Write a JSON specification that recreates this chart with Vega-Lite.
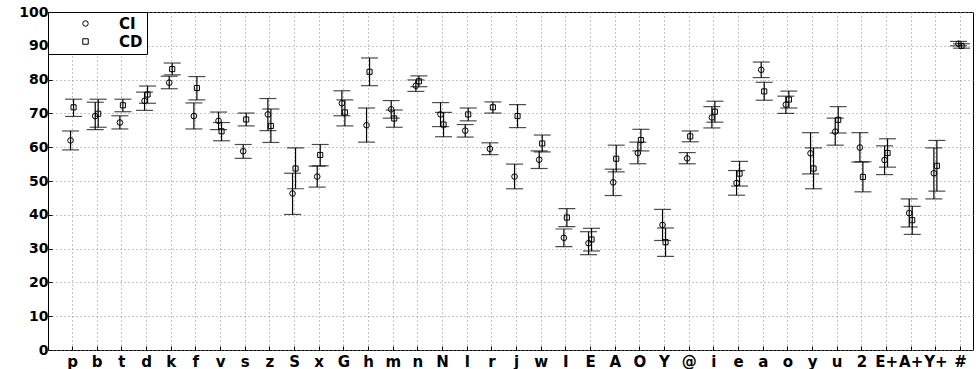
{
  "$schema": "https://vega.github.io/schema/vega-lite/v6.json",
  "width": 925,
  "height": 338,
  "autosize": {"type": "none"},
  "padding": {"left": 48, "top": 12, "right": 3, "bottom": 19},
  "config": {
    "font": "DejaVu Sans",
    "view": {"stroke": "#000", "strokeWidth": 1},
    "axis": {
      "labelFont": "DejaVu Sans",
      "labelFontSize": 14,
      "labelFontWeight": "bold",
      "labelColor": "#000",
      "domain": false,
      "tickColor": "#000",
      "gridColor": "#8a8a8a",
      "gridDash": [1, 3],
      "gridOpacity": 1,
      "title": null,
      "labelOverlap": false,
      "labelFlush": false
    }
  },
  "data": {
    "values": [
      {"ph": "p", "series": "CI", "v": 62.0, "lo": 59.2, "hi": 64.8},
      {"ph": "p", "series": "CD", "v": 71.8, "lo": 69.1, "hi": 74.2},
      {"ph": "b", "series": "CI", "v": 69.2, "lo": 65.2, "hi": 73.3},
      {"ph": "b", "series": "CD", "v": 69.9, "lo": 65.9, "hi": 74.2},
      {"ph": "t", "series": "CI", "v": 67.3, "lo": 65.4, "hi": 69.3},
      {"ph": "t", "series": "CD", "v": 72.4, "lo": 70.5, "hi": 74.2},
      {"ph": "d", "series": "CI", "v": 73.7, "lo": 70.9, "hi": 76.3},
      {"ph": "d", "series": "CD", "v": 75.6, "lo": 73.0, "hi": 78.1},
      {"ph": "k", "series": "CI", "v": 79.1, "lo": 77.3, "hi": 81.0},
      {"ph": "k", "series": "CD", "v": 83.1, "lo": 81.4, "hi": 84.9},
      {"ph": "f", "series": "CI", "v": 69.2, "lo": 65.4, "hi": 73.1},
      {"ph": "f", "series": "CD", "v": 77.5, "lo": 74.0, "hi": 80.9},
      {"ph": "v", "series": "CI", "v": 67.8, "lo": 65.2, "hi": 70.4},
      {"ph": "v", "series": "CD", "v": 64.7, "lo": 61.9, "hi": 67.3},
      {"ph": "s", "series": "CI", "v": 58.8, "lo": 56.7, "hi": 60.8},
      {"ph": "s", "series": "CD", "v": 68.2, "lo": 66.3, "hi": 70.1},
      {"ph": "z", "series": "CI", "v": 69.7, "lo": 64.9, "hi": 74.4},
      {"ph": "z", "series": "CD", "v": 66.3, "lo": 61.4, "hi": 71.3},
      {"ph": "S", "series": "CI", "v": 46.3, "lo": 40.1, "hi": 52.3},
      {"ph": "S", "series": "CD", "v": 53.7, "lo": 47.7, "hi": 59.8},
      {"ph": "x", "series": "CI", "v": 51.3, "lo": 48.2, "hi": 54.4},
      {"ph": "x", "series": "CD", "v": 57.7, "lo": 54.5, "hi": 60.8},
      {"ph": "G", "series": "CI", "v": 73.0, "lo": 69.3, "hi": 76.7},
      {"ph": "G", "series": "CD", "v": 70.3, "lo": 66.3, "hi": 74.0},
      {"ph": "h", "series": "CI", "v": 66.5, "lo": 61.5, "hi": 71.6},
      {"ph": "h", "series": "CD", "v": 82.3, "lo": 78.2, "hi": 86.4},
      {"ph": "m", "series": "CI", "v": 71.2, "lo": 68.6, "hi": 73.8},
      {"ph": "m", "series": "CD", "v": 68.5, "lo": 65.9, "hi": 71.0},
      {"ph": "n", "series": "CI", "v": 78.2, "lo": 76.5, "hi": 79.9},
      {"ph": "n", "series": "CD", "v": 79.5, "lo": 77.9, "hi": 81.1},
      {"ph": "N", "series": "CI", "v": 69.7, "lo": 66.1, "hi": 73.2},
      {"ph": "N", "series": "CD", "v": 66.7, "lo": 63.1, "hi": 70.3},
      {"ph": "l", "series": "CI", "v": 64.9, "lo": 63.0, "hi": 66.7},
      {"ph": "l", "series": "CD", "v": 69.7, "lo": 67.8, "hi": 71.6},
      {"ph": "r", "series": "CI", "v": 59.5, "lo": 57.8, "hi": 61.3},
      {"ph": "r", "series": "CD", "v": 71.8, "lo": 70.1, "hi": 73.4},
      {"ph": "j", "series": "CI", "v": 51.3, "lo": 47.7, "hi": 55.0},
      {"ph": "j", "series": "CD", "v": 69.2, "lo": 65.8, "hi": 72.6},
      {"ph": "w", "series": "CI", "v": 56.3, "lo": 53.7, "hi": 58.9},
      {"ph": "w", "series": "CD", "v": 61.1, "lo": 58.6, "hi": 63.6},
      {"ph": "I", "series": "CI", "v": 33.2, "lo": 30.6, "hi": 35.8},
      {"ph": "I", "series": "CD", "v": 39.2, "lo": 36.5, "hi": 41.8},
      {"ph": "E", "series": "CI", "v": 31.6, "lo": 28.2, "hi": 35.0},
      {"ph": "E", "series": "CD", "v": 32.7, "lo": 29.3, "hi": 36.0},
      {"ph": "A", "series": "CI", "v": 49.6, "lo": 45.7, "hi": 53.5},
      {"ph": "A", "series": "CD", "v": 56.6, "lo": 52.7, "hi": 60.6},
      {"ph": "O", "series": "CI", "v": 58.3, "lo": 55.1, "hi": 61.5},
      {"ph": "O", "series": "CD", "v": 62.1, "lo": 58.9, "hi": 65.3},
      {"ph": "Y", "series": "CI", "v": 37.0, "lo": 32.4, "hi": 41.6},
      {"ph": "Y", "series": "CD", "v": 31.9, "lo": 27.7, "hi": 36.1},
      {"ph": "@", "series": "CI", "v": 56.7, "lo": 55.1, "hi": 58.4},
      {"ph": "@", "series": "CD", "v": 63.2, "lo": 61.6, "hi": 64.8},
      {"ph": "i", "series": "CI", "v": 68.8, "lo": 65.7, "hi": 72.0},
      {"ph": "i", "series": "CD", "v": 70.5, "lo": 67.4, "hi": 73.6},
      {"ph": "e", "series": "CI", "v": 49.4, "lo": 45.8, "hi": 53.1},
      {"ph": "e", "series": "CD", "v": 52.2, "lo": 48.5, "hi": 55.8},
      {"ph": "a", "series": "CI", "v": 82.9, "lo": 80.6, "hi": 85.2},
      {"ph": "a", "series": "CD", "v": 76.5, "lo": 73.9, "hi": 79.2},
      {"ph": "o", "series": "CI", "v": 72.6, "lo": 70.0, "hi": 75.1},
      {"ph": "o", "series": "CD", "v": 74.1, "lo": 71.6, "hi": 76.6},
      {"ph": "y", "series": "CI", "v": 58.2, "lo": 52.1, "hi": 64.3},
      {"ph": "y", "series": "CD", "v": 53.7, "lo": 47.7, "hi": 59.8},
      {"ph": "u", "series": "CI", "v": 64.6, "lo": 60.6, "hi": 68.6},
      {"ph": "u", "series": "CD", "v": 68.1, "lo": 64.2, "hi": 72.0},
      {"ph": "2", "series": "CI", "v": 59.9, "lo": 55.6, "hi": 64.3},
      {"ph": "2", "series": "CD", "v": 51.2, "lo": 46.8, "hi": 55.7},
      {"ph": "E+", "series": "CI", "v": 56.2, "lo": 51.9, "hi": 60.4},
      {"ph": "E+", "series": "CD", "v": 58.3, "lo": 54.1, "hi": 62.5},
      {"ph": "A+", "series": "CI", "v": 40.5, "lo": 36.4, "hi": 44.7},
      {"ph": "A+", "series": "CD", "v": 38.4, "lo": 34.2, "hi": 42.5},
      {"ph": "Y+", "series": "CI", "v": 52.3, "lo": 44.7, "hi": 59.8},
      {"ph": "Y+", "series": "CD", "v": 54.5, "lo": 47.0, "hi": 62.0},
      {"ph": "#", "series": "CI", "v": 90.6, "lo": 90.0, "hi": 91.3},
      {"ph": "#", "series": "CD", "v": 90.0, "lo": 89.3, "hi": 90.6}
    ]
  },
  "encoding": {
    "x": {
      "field": "ph",
      "type": "nominal",
      "sort": null,
      "scale": {"type": "point", "padding": 0.75, "align": 0.65},
      "axis": {"orient": "bottom", "labelAngle": 0, "grid": true, "tickSize": -4, "labelPadding": 8, "labelFontSize": 15}
    },
    "y": {
      "type": "quantitative",
      "scale": {"domain": [0, 100], "nice": false, "zero": true},
      "axis": {"values": [0, 10, 20, 30, 40, 50, 60, 70, 80, 90, 100], "tickCount": 11, "grid": true, "tickSize": -4, "labelPadding": 4, "labelOverlap": false, "labelBound": false}
    }
  },
  "layer": [
    {
      "transform": [{"filter": "datum.series === 'CI'"}],
      "mark": {"type": "rule", "color": "#000", "strokeWidth": 1.2, "xOffset": -1.5},
      "encoding": {
        "y": {"field": "lo", "type": "quantitative"},
        "y2": {"field": "hi"}
      }
    },
    {
      "transform": [{"filter": "datum.series === 'CD'"}],
      "mark": {"type": "rule", "color": "#000", "strokeWidth": 1.2, "xOffset": 1.5},
      "encoding": {
        "y": {"field": "lo", "type": "quantitative"},
        "y2": {"field": "hi"}
      }
    },
    {
      "transform": [{"filter": "datum.series === 'CI'"}, {"fold": ["lo", "hi"], "as": ["k", "cap"]}],
      "mark": {"type": "tick", "color": "#000", "size": 17, "thickness": 1.2, "xOffset": -1.5},
      "encoding": {"y": {"field": "cap", "type": "quantitative"}}
    },
    {
      "transform": [{"filter": "datum.series === 'CD'"}, {"fold": ["lo", "hi"], "as": ["k", "cap"]}],
      "mark": {"type": "tick", "color": "#000", "size": 17, "thickness": 1.2, "xOffset": 1.5},
      "encoding": {"y": {"field": "cap", "type": "quantitative"}}
    },
    {
      "transform": [{"filter": "datum.series === 'CI'"}],
      "mark": {"type": "point", "filled": false, "stroke": "#000", "strokeWidth": 1, "size": 32, "xOffset": -1.5, "opacity": 1},
      "encoding": {
        "y": {"field": "v", "type": "quantitative"},
        "shape": {
          "field": "series",
          "type": "nominal",
          "scale": {"domain": ["CI", "CD"], "range": ["circle", "square"]},
          "legend": {
            "title": null,
            "orient": "none",
            "legendX": 0,
            "legendY": 0,
            "strokeColor": "#000",
            "fillColor": "#fff",
            "padding": 4,
            "symbolOffset": 26,
            "labelOffset": 26,
            "labelFont": "DejaVu Sans",
            "labelFontSize": 15,
            "labelFontWeight": "bold",
            "labelColor": "#000",
            "rowPadding": 2,
            "symbolStrokeColor": "#000",
            "symbolFillColor": "transparent",
            "symbolStrokeWidth": 1,
            "symbolSize": 30
          }
        }
      }
    },
    {
      "transform": [{"filter": "datum.series === 'CD'"}],
      "mark": {"type": "point", "filled": false, "stroke": "#000", "strokeWidth": 1, "size": 26, "xOffset": 1.5, "opacity": 1},
      "encoding": {
        "y": {"field": "v", "type": "quantitative"},
        "shape": {"field": "series", "type": "nominal"}
      }
    }
  ]
}
